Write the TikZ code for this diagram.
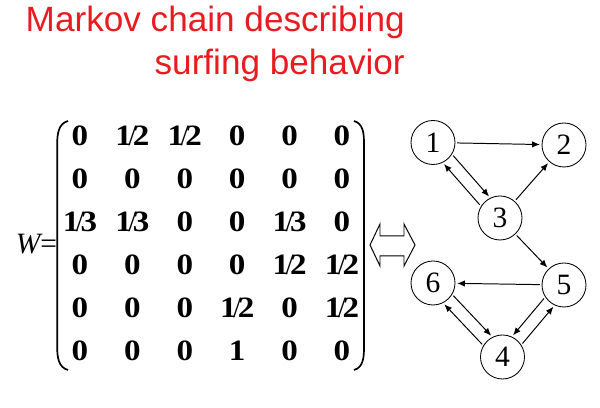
\documentclass[tikz,border=0pt]{standalone}
\usepackage{xcolor}
\usepackage{fontspec}
\setmainfont{Liberation Serif}
\newfontfamily\titlefont{Liberation Sans}
\newfontfamily\entryfont[FakeStretch=1.12]{Liberation Serif Bold}
\usepackage{tikz}
\usetikzlibrary{positioning,calc,arrows.meta}
\definecolor{markovred}{RGB}{232,28,32}
\newcommand{\frachalf}{1\kern-.12em{\rmfamily\mdseries/}\kern-.12em2}
\newcommand{\fracthird}{1\kern-.12em{\rmfamily\mdseries/}\kern-.12em3}

\begin{document}
\begin{tikzpicture}[
    page/.style={draw, circle, minimum size=1.1cm, inner sep=0pt, outer sep=1.5pt, line width=0.6pt, font=\fontsize{21}{21}\selectfont},
    link/.style={-{Latex[length=5.5pt,width=4.5pt]}, line width=0.7pt},
    entry/.style={anchor=base, inner sep=0pt, font=\entryfont\fontsize{21}{21}\selectfont}
]
    \useasboundingbox (0,0) rectangle (15,10.2);

    % Title
    \node[anchor=base east, inner sep=0pt, text=markovred, font=\titlefont\fontsize{25}{25}\selectfont] (title1) at (10.125,9.4) {Markov chain describing};
    \node[anchor=base east, inner sep=0pt, text=markovred, font=\titlefont\fontsize{25}{25}\selectfont] (title2) at (10.125,8.325) {surfing behavior};

    % Matrix
    \foreach \rowvals [count=\r] in {
        {0,\frachalf,\frachalf,0,0,0},
        {0,0,0,0,0,0},
        {\fracthird,\fracthird,0,0,\fracthird,0},
        {0,0,0,0,\frachalf,\frachalf},
        {0,0,0,\frachalf,0,\frachalf},
        {0,0,0,1,0,0}}
        \foreach \val [count=\c] in \rowvals
            \node[entry] (w-\r-\c) at ({2.0+1.31*(\c-1)},{6.55-1.075*(\r-1)}) {\val};
    \node[anchor=base east, inner sep=0pt, font=\fontsize{21}{21}\selectfont] (weq) at (1.43,3.85) {\textit{W}\kern-.08em=};

    % Brackets
    \draw[line width=1.2pt] (1.7,7.175) to[out=195,in=90] (1.43,6.6) -- (1.43,1.525) to[out=-90,in=165] (1.7,0.95);
    \draw[line width=1.2pt] (8.85,7.175) to[out=-15,in=90] (9.1,6.6) -- (9.1,1.525) to[out=-90,in=15] (8.85,0.95);

    % Double arrow
    \draw[line width=0.7pt] (9.25,4.075) -- (9.5,4.6) -- (9.5,4.3) -- (10.1,4.3) -- (10.1,4.6) -- (10.375,4.075)
        -- (10.1,3.55) -- (10.1,3.8) -- (9.5,3.8) -- (9.5,3.55) -- cycle;

    % Pages
    \node[page] at (10.825,6.6375) (n1) {1};
    \node[page] at (14.1,6.575) (n2) {2};
    \node[page] at (12.5,4.75) (n3) {3};
    \node[page] at (10.825,3.125) (n6) {6};
    \node[page] at (14.1,3.075) (n5) {5};
    \node[page] at (12.5625,1.275) (n4) {4};

    % Links
    \draw[link] (n1) -- (n2);
    \draw[link] (n1.-33) -- (n3.117);
    \draw[link] (n3.147) -- (n1.-63);
    \draw[link] (n3) -- (n2);
    \draw[link] (n3) -- (n5);
    \draw[link] (n5) -- (n6);
    \draw[link] (n6.-32) -- (n4.118);
    \draw[link] (n4.148) -- (n6.-62);
    \draw[link] (n5.214) -- (n4.64);
    \draw[link] (n4.34) -- (n5.244);
\end{tikzpicture}
\end{document}
